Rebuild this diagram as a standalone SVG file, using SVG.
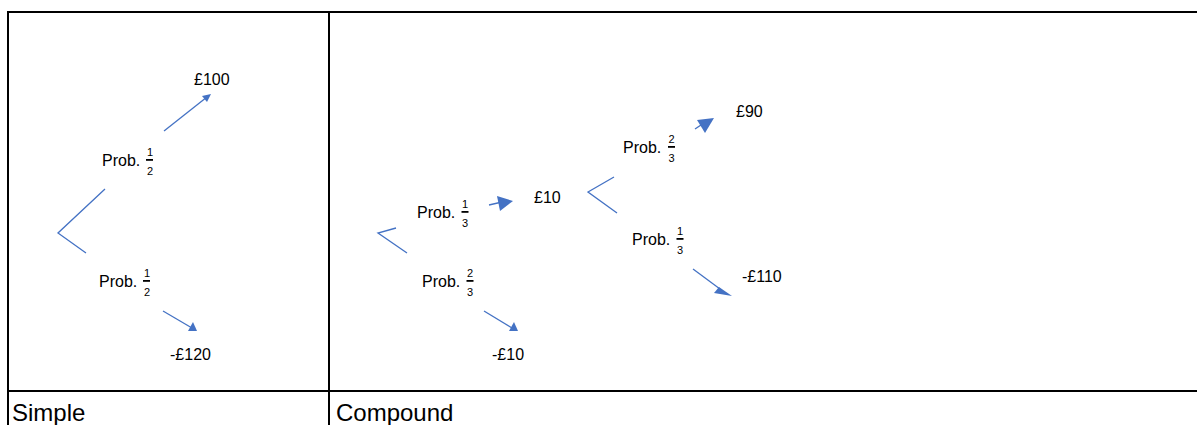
<svg xmlns="http://www.w3.org/2000/svg" width="1197" height="425" viewBox="0 0 1197 425">
<style>
.t{font-family:"Liberation Sans",Arial,sans-serif;font-size:16px;fill:#000}
.f{font-family:"Liberation Sans",Arial,sans-serif;font-size:11px;fill:#000;text-anchor:middle}
.h{font-family:"Liberation Sans",Arial,sans-serif;font-size:24px;fill:#000}
.c{stroke:#4472C4;stroke-width:1.3;fill:none}
.ah{fill:#4472C4;stroke:none}
.tb{stroke:#000;stroke-width:2;fill:none}
</style>
<rect width="1197" height="425" fill="#fff"/>
<g id="table">
<line class="tb" x1="7" y1="12" x2="1197" y2="12"/>
<line class="tb" x1="8" y1="11" x2="8" y2="425"/>
<line class="tb" x1="329" y1="11" x2="329" y2="425"/>
<line class="tb" x1="7" y1="391" x2="1197" y2="391"/>
<text class="h" x="12" y="421">Simple</text>
<text class="h" x="336" y="421">Compound</text>
</g>
<g id="connectors">
<polyline class="c" points="105,189 58,233 86,253"/>
<line class="c" x1="164" y1="131" x2="207" y2="97"/>
<polygon class="ah" points="202,96 211,94 207,102"/>
<line class="c" x1="163" y1="311" x2="192" y2="328"/>
<polygon class="ah" points="188,331 197,331 193,322"/>
<polyline class="c" points="396,228 378,233 407,253"/>
<line class="c" x1="489" y1="205" x2="502" y2="202"/>
<polygon class="ah" points="497,196 513,201 500,211"/>
<line class="c" x1="484" y1="311" x2="512" y2="328"/>
<polygon class="ah" points="509,331 518,331 514,322"/>
<polyline class="c" points="614,177 588,192 617,213"/>
<line class="c" x1="695" y1="129" x2="704" y2="123"/>
<polygon class="ah" points="697,120 714,118 705,133"/>
<line class="c" x1="693" y1="269" x2="720" y2="289"/>
<polygon class="ah" points="719,287 714,293 732,296"/>
</g>
<g id="simple-root"/>
<g id="p-s1"><text class="t" x="102" y="166">Prob.</text><text class="f" x="150" y="155.5">1</text><rect x="146" y="159" width="7" height="1.8"/><text class="f" x="150" y="175">2</text></g>
<g id="n-100"><text class="t" x="194" y="85">£100</text></g>
<g id="p-s2"><text class="t" x="99" y="287">Prob.</text><text class="f" x="147" y="276.5">1</text><rect x="143" y="280" width="7" height="1.8"/><text class="f" x="147" y="296">2</text></g>
<g id="n-m120"><text class="t" x="170" y="360">-£120</text></g>
<g id="p-c1"><text class="t" x="417" y="218">Prob.</text><text class="f" x="465" y="207.5">1</text><rect x="461.5" y="211" width="7" height="1.8"/><text class="f" x="465" y="227">3</text></g>
<g id="n-10"><text class="t" x="534" y="203">£10</text></g>
<g id="p-c2"><text class="t" x="422" y="287">Prob.</text><text class="f" x="470" y="276.5">2</text><rect x="466.5" y="280" width="7" height="1.8"/><text class="f" x="470" y="296">3</text></g>
<g id="n-m10"><text class="t" x="492" y="360">-£10</text></g>
<g id="p-c3"><text class="t" x="623" y="153">Prob.</text><text class="f" x="671.5" y="142.5">2</text><rect x="668" y="146" width="7" height="1.8"/><text class="f" x="671.5" y="162">3</text></g>
<g id="n-90"><text class="t" x="736" y="117">£90</text></g>
<g id="p-c4"><text class="t" x="632" y="245">Prob.</text><text class="f" x="680" y="234.5">1</text><rect x="676.5" y="238" width="7" height="1.8"/><text class="f" x="680" y="254">3</text></g>
<g id="n-m110"><text class="t" x="742" y="282">-£110</text></g>
</svg>
